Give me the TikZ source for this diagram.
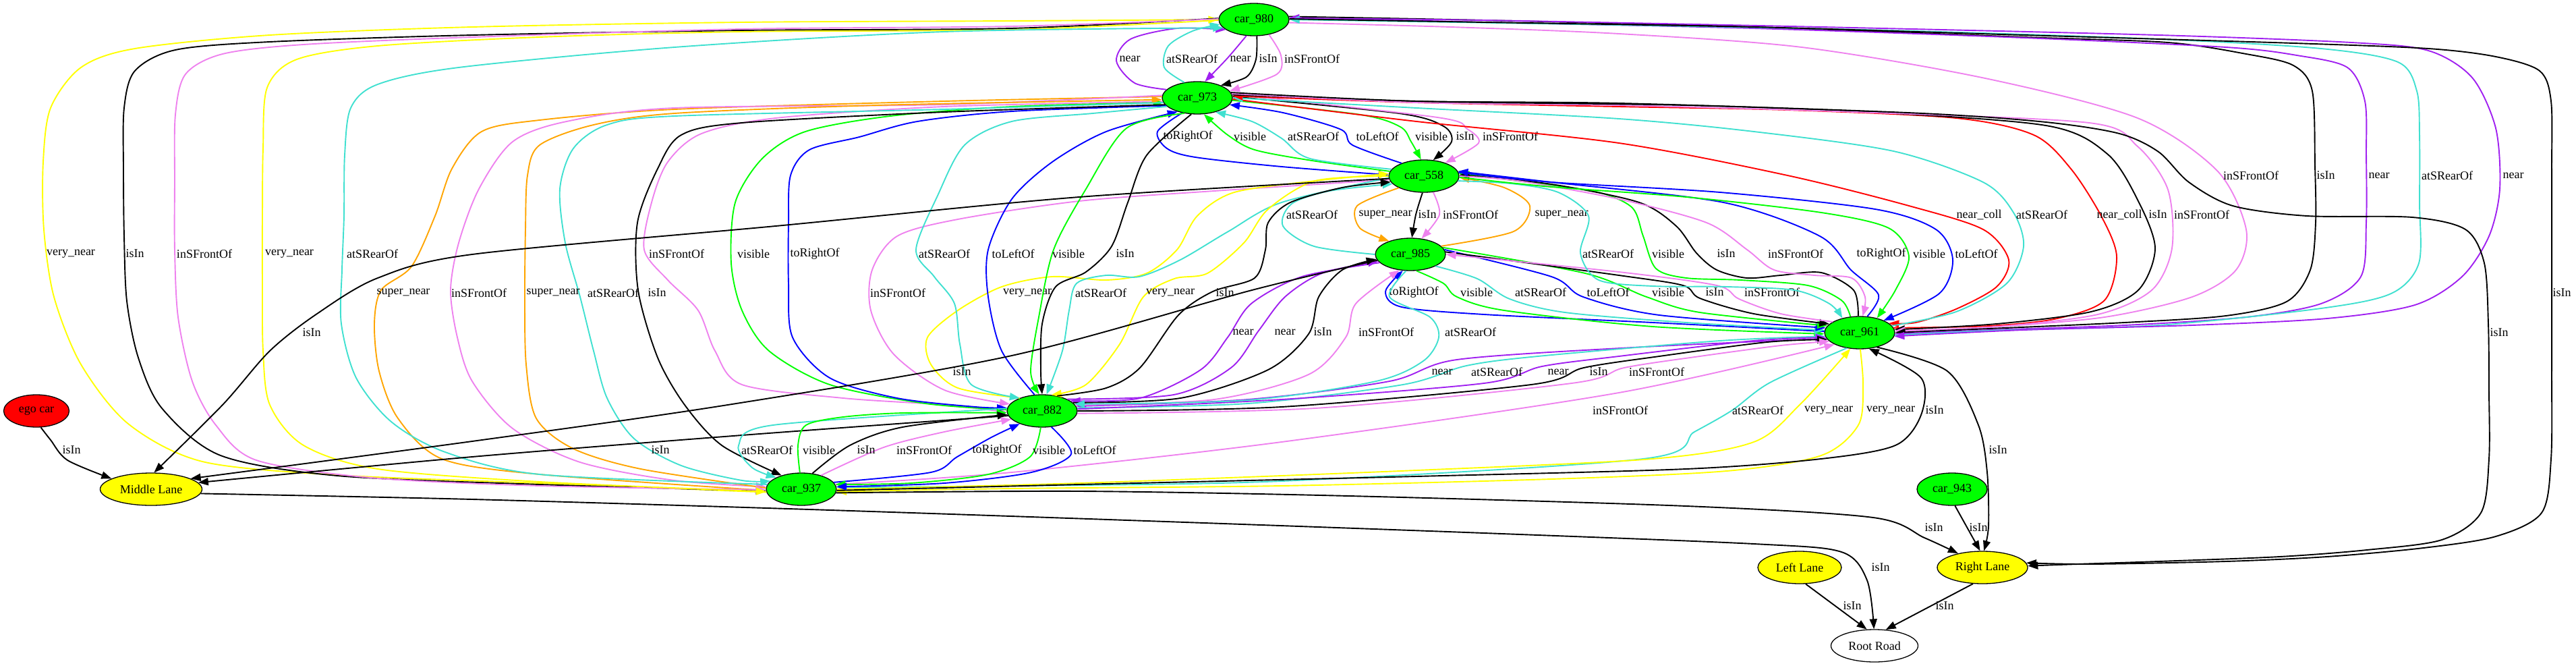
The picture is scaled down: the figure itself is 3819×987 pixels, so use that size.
\documentclass[tikz,border=0pt]{standalone}
\usepackage{fontspec}
\setmainfont{Liberation Serif}
\usetikzlibrary{arrows.meta,shapes.geometric}
\definecolor{gvgreen}{RGB}{0,255,0}
\definecolor{gvyellow}{RGB}{255,255,0}
\definecolor{gvred}{RGB}{255,0,0}
\definecolor{gvpurple}{RGB}{160,32,240}
\definecolor{gvturq}{RGB}{64,224,208}
\definecolor{gvviolet}{RGB}{238,130,238}
\definecolor{gvblue}{RGB}{0,0,255}
\definecolor{gvorange}{RGB}{255,165,0}
\tikzset{
  gnode/.style={ellipse, draw=black, line width=1.3pt, inner sep=0pt,
    minimum width=104pt, minimum height=48pt, font=\fontsize{18}{21}\selectfont},
  carnode/.style={gnode, fill=gvgreen},
  lanenode/.style={gnode, fill=gvyellow},
  lbl/.style={inner sep=0pt, font=\fontsize{18}{21}\selectfont},
  gv/.style={smooth, tension=0.5},
  rel/.style={line width=1.9pt, -{Triangle[length=15pt,width=11pt]}},
  eisin/.style={rel, black},
  enear/.style={rel, gvpurple},
  erear/.style={rel, gvturq},
  efront/.style={rel, gvviolet},
  evis/.style={rel, gvgreen},
  eright/.style={rel, gvblue},
  eleft/.style={rel, gvblue},
  esuper/.style={rel, gvorange},
  evnear/.style={rel, gvyellow},
  ecoll/.style={rel, gvred}
}

\begin{document}
\begin{tikzpicture}[x=1pt, y=-1pt]
\useasboundingbox (0,0) rectangle (3819,987);
% objects
\node[carnode] (c980) at (1859,29) {car\_980};
\node[carnode] (c973) at (1775,145) {car\_973};
\node[carnode] (c558) at (2111,261) {car\_558};
\node[carnode] (c985) at (2091,377) {car\_985};
\node[carnode] (c961) at (2757,493) {car\_961};
\node[carnode] (c882) at (1545,609) {car\_882};
\node[carnode] (c937) at (1188,725) {car\_937};
\node[carnode] (c943) at (2894,725) {car\_943};
\node[gnode, fill=gvred, minimum width=97pt] (ego) at (54,609) {ego car};
\node[lanenode, minimum width=151pt] (midlane) at (224,725) {Middle Lane};
\node[lanenode, minimum width=124pt] (leftlane) at (2668,841) {Left Lane};
\node[lanenode, minimum width=134pt] (rightlane) at (2939,841) {Right Lane};
\node[gnode, fill=white, minimum width=129pt] (root) at (2779,957) {Root Road};

% car_980 / car_973
\draw[enear] plot[gv] coordinates {(c973.165) (1682,123) (1655,90) (1676,58) (1745,42) (c980.200)};
\draw[erear] plot[gv] coordinates {(c973.130) (1726,100) (1732,68) (1768,46) (c980.188)};
\draw[enear] plot[gv] coordinates {(c980.245) (1819,87) (c973.65)};
\draw[eisin] plot[gv] coordinates {(c980.280) (1862,88) (1848,114) (c973.28)};
\draw[efront] plot[gv] coordinates {(c980.315) (1899,82) (1893,110) (c973.12)};
\node[lbl] (lA1) at (1675,87) {near}; \node[lbl] (lA2) at (1767,87) {atSRearOf};
\node[lbl] (lA3) at (1839,87) {near}; \node[lbl] (lA4) at (1880,87) {isIn};
\node[lbl] (lA5) at (1945,87) {inSFrontOf};

% car_973 / car_558
\draw[eright] plot[gv] coordinates {(c973.225) (1716,195) (1730,220) (1772,233) (1900,247) (c558.178)};
\draw[evis] plot[gv] coordinates {(c558.172) (1945,238) (1860,222) (1820,200) (c973.292)};
\draw[erear] plot[gv] coordinates {(c558.168) (1942,235) (1900,205) (1856,180) (c973.322)};
\draw[eleft] plot[gv] coordinates {(c558.150) (2005,215) (1988,192) (1902,167) (c973.348)};
\draw[evis] plot[gv] coordinates {(c973.356) (2017,170) (2076,188) (2092,210) (c558.100)};
\draw[eisin] plot[gv] coordinates {(c973.2) (2074,168) (2140,187) (2152,210) (c558.60)};
\draw[efront] plot[gv] coordinates {(c973.6) (2131,174) (2175,191) (2192,212) (c558.32)};
\node[lbl] (lB1) at (1761,202) {toRightOf}; \node[lbl] (lB2) at (1853,202) {visible};
\node[lbl] (lB3) at (1947,202) {atSRearOf}; \node[lbl] (lB4) at (2042,202) {toLeftOf};
\node[lbl] (lB5) at (2122,202) {visible}; \node[lbl] (lB6) at (2172,202) {isIn};
\node[lbl] (lB7) at (2239,202) {inSFrontOf};

% car_558 / car_985
\draw[erear] plot[gv] coordinates {(c985.180) (1948,365) (1902,335) (1915,302) (1971,283) (c558.194)};
\draw[esuper] plot[gv] coordinates {(c558.205) (2012,305) (2016,338) (c985.148)};
\draw[eisin] plot[gv] coordinates {(c558.265) (2099,318) (c985.85)};
\draw[efront] plot[gv] coordinates {(c558.300) (2134,318) (c985.55)};
\draw[esuper] plot[gv] coordinates {(c985.15) (2244,343) (2268,305) (2230,278) (c558.358)};
\node[lbl] (lC1) at (1945,318) {atSRearOf}; \node[lbl] (lC2) at (2054,318) {super\_near};
\node[lbl] (lC3) at (2116,318) {isIn}; \node[lbl] (lC4) at (2180,318) {inSFrontOf};
\node[lbl] (lC5) at (2315,318) {super\_near};

% car_985 / car_961
\draw[eright] plot[gv] coordinates {(c961.178) (2450,478) (2200,466) (2078,455) (2054,432) (c985.245)};
\draw[evis] plot[gv] coordinates {(c985.290) (2140,420) (2160,440) (2230,460) (2450,484) (c961.182)};
\draw[erear] plot[gv] coordinates {(c985.335) (2190,413) (2238,443) (2320,463) (2500,478) (c961.176)};
\draw[eleft] plot[gv] coordinates {(c985.8) (2300,410) (2347,440) (2460,467) (c961.172)};
\draw[evis] plot[gv] coordinates {(c985.12) (2350,405) (2441,440) (2520,463) (c961.168)};
\draw[eisin] plot[gv] coordinates {(c985.4) (2400,408) (2495,423) (2520,442) (2600,465) (c961.164)};
\draw[efront] plot[gv] coordinates {(c961.158) (2640,465) (2578,443) (2545,423) (2400,403) (c985.0)};
\node[lbl] (lD1) at (2096,433) {toRightOf}; \node[lbl] (lD2) at (2189,433) {visible};
\node[lbl] (lD3) at (2284,433) {atSRearOf}; \node[lbl] (lD4) at (2384,433) {toLeftOf};
\node[lbl] (lD5) at (2473,433) {visible}; \node[lbl] (lD6) at (2542,433) {isIn};
\node[lbl] (lD7) at (2627,433) {inSFrontOf};

% car_558 / car_961
\draw[erear] plot[gv] coordinates {(c558.352) (2240,272) (2310,285) (2355,320) (2343,375) (2370,415) (2450,424) (2560,425) (2660,430) (2712,450) (c961.140)};
\draw[evis] plot[gv] coordinates {(c961.120) (2730,445) (2680,423) (2580,415) (2500,412) (2455,398) (2436,350) (2420,308) (2370,285) (2280,272) (c558.4)};
\draw[eisin] plot[gv] coordinates {(c961.95) (2748,430) (2700,404) (2640,408) (2590,412) (2545,400) (2515,375) (2485,335) (2430,300) (2300,273) (c558.2)};
\draw[efront] plot[gv] coordinates {(c558.0) (2250,268) (2400,295) (2530,330) (2590,370) (2630,400) (2690,408) (2745,412) (2765,440) (c961.80)};
\draw[eright] plot[gv] coordinates {(c961.65) (2785,437) (2744,400) (2698,350) (2555,300) (2300,270) (c558.8)};
\draw[evis] plot[gv] coordinates {(c558.358) (2300,277) (2500,292) (2700,315) (2800,338) (2830,380) (2810,430) (c961.40)};
\draw[eleft] plot[gv] coordinates {(c558.6) (2300,270) (2550,285) (2780,310) (2870,340) (2895,385) (2875,435) (c961.27)};
\node[lbl] (lE1) at (2384,376) {atSRearOf}; \node[lbl] (lE2) at (2473,376) {visible};
\node[lbl] (lE3) at (2559,376) {isIn}; \node[lbl] (lE4) at (2662,376) {inSFrontOf};
\node[lbl] (lE5) at (2789,376) {toRightOf}; \node[lbl] (lE6) at (2860,376) {visible};
\node[lbl] (lE7) at (2930,376) {toLeftOf};

% car_973 / car_961
\draw[ecoll] plot[gv] coordinates {(c973.358) (2100,180) (2400,212) (2650,260) (2830,305) (2940,340) (2978,385) (2960,425) (2900,458) (2840,478) (c961.18)};
\draw[erear] plot[gv] coordinates {(c961.12) (2900,462) (2975,420) (3000,365) (2985,315) (2940,270) (2807,224) (2600,195) (2400,176) (2100,160) (c973.0)};
\draw[ecoll] plot[gv] coordinates {(c961.8) (2950,483) (3050,472) (3120,445) (3138,380) (3115,320) (3070,250) (3015,200) (2900,175) (2650,163) (2400,158) (2100,152) (c973.3)};
\draw[eisin] plot[gv] coordinates {(c973.5) (2100,150) (2400,153) (2750,165) (3033,186) (3124,228) (3170,298) (3195,368) (3170,430) (3100,462) (2960,480) (c961.5)};
\draw[efront] plot[gv] coordinates {(c973.7) (2100,152) (2400,156) (2750,166) (3097,182) (3169,217) (3214,281) (3220,368) (3190,430) (3110,466) (2960,484) (c961.3)};
\node[lbl] (lF1) at (2934,318) {near\_coll}; \node[lbl] (lF2) at (3027,318) {atSRearOf};
\node[lbl] (lF3) at (3142,318) {near\_coll}; \node[lbl] (lF4) at (3199,318) {isIn};
\node[lbl] (lF5) at (3264,318) {inSFrontOf};

% car_980 / car_961
\draw[efront] plot[gv] coordinates {(c980.355) (2150,40) (2400,50) (2671,70) (2943,116) (3169,175) (3287,253) (3330,340) (3315,400) (3250,440) (3120,470) (2950,485) (c961.1)};
\draw[eisin] plot[gv] coordinates {(c980.5) (2200,30) (2600,40) (3000,55) (3214,63) (3330,80) (3400,97) (3428,135) (3432,246) (3433,330) (3425,400) (3390,447) (3300,468) (3150,478) (2950,487) (c961.0)};
\draw[enear] plot[gv] coordinates {(c961.358) (2950,489) (3150,482) (3330,470) (3441,450) (3500,410) (3508,330) (3508,230) (3506,150) (3480,100) (3405,82) (3300,70) (3000,56) (2600,42) (2200,33) (c980.3)};
\draw[erear] plot[gv] coordinates {(c961.356) (2950,490) (3200,482) (3441,457) (3545,435) (3586,390) (3587,300) (3587,200) (3583,135) (3555,92) (3441,72) (3200,58) (2800,45) (2400,37) (c980.0)};
\draw[enear] plot[gv] coordinates {(c980.2) (2200,30) (2700,40) (3200,52) (3486,63) (3600,75) (3665,115) (3700,190) (3706,280) (3690,350) (3650,410) (3580,452) (3450,472) (3250,482) (3000,489) (c961.354)};
\node[lbl] (lG1) at (3337,260) {inSFrontOf}; \node[lbl] (lG2) at (3448,260) {isIn};
\node[lbl] (lG3) at (3527,260) {near}; \node[lbl] (lG4) at (3628,260) {atSRearOf};
\node[lbl] (lG5) at (3726,260) {near};

% long isIn edges to Right Lane
\draw[eisin] plot[gv] coordinates {(c980.1) (2200,33) (2600,40) (3000,52) (3400,64) (3600,72) (3700,84) (3765,105) (3782,150) (3783,250) (3783,400) (3783,550) (3782,680) (3768,760) (3700,795) (3593,812) (3450,825) (3300,832) (3100,836) (rightlane.6)};
\draw[eisin] plot[gv] coordinates {(c973.9) (2100,150) (2500,156) (2850,168) (3033,181) (3142,198) (3200,225) (3245,270) (3310,305) (3420,320) (3576,322) (3655,340) (3683,390) (3689,480) (3690,580) (3690,680) (3678,760) (3620,800) (3509,815) (3380,825) (3200,832) (3080,836) (rightlane.2)};
\draw[eisin] plot[gv] coordinates {(c961.320) (2887,550) (2933,630) (2946,700) (2948,780) (rightlane.85)};
\node[lbl] (lH1) at (3798,434) {isIn}; \node[lbl] (lH2) at (3705,493) {isIn};
\node[lbl] (lH3) at (2962,667) {isIn};

% car_937 / car_961
\draw[efront] plot[gv] coordinates {(c937.8) (1500,700) (1900,655) (2400,582) (c961.205)};
\draw[erear] plot[gv] coordinates {(c961.230) (2624,567) (2568,608) (2512,640) (2436,680) (1900,713) (1500,720) (c937.3)};
\draw[evnear] plot[gv] coordinates {(c937.0) (1600,716) (2100,697) (2450,680) (2600,655) (2668,600) (c961.240)};
\draw[evnear] plot[gv] coordinates {(c961.272) (2762,570) (2755,630) (2700,675) (2560,698) (2300,710) (1900,720) (1500,724) (c937.356)};
\draw[eisin] plot[gv] coordinates {(c937.358) (1600,718) (2100,706) (2500,695) (2700,680) (2810,660) (2848,615) (2848,560) (c961.300)};
\node[lbl] (lI1) at (2402,608) {inSFrontOf}; \node[lbl] (lI2) at (2606,608) {atSRearOf};
\node[lbl] (lI3) at (2711,608) {very\_near}; \node[lbl] (lI4) at (2803,608) {very\_near};
\node[lbl] (lI5) at (2868,608) {isIn};

% car_882 / car_961
\draw[enear] plot[gv] coordinates {(c961.190) (2420,515) (2160,533) (2060,565) (1850,592) (c882.8)};
\draw[erear] plot[gv] coordinates {(c882.5) (1850,598) (2080,570) (2174,542) (2280,528) (2550,505) (c961.186)};
\draw[enear] plot[gv] coordinates {(c882.3) (1900,592) (2200,568) (2286,543) (2400,528) (2600,505) (c961.188)};
\draw[eisin] plot[gv] coordinates {(c882.0) (1900,603) (2270,570) (2348,545) (2460,528) (2620,507) (c961.192)};
\draw[efront] plot[gv] coordinates {(c882.356) (1950,605) (2330,568) (2408,545) (2520,528) (2640,512) (c961.196)};
\node[lbl] (lJ1) at (2138,551) {near}; \node[lbl] (lJ2) at (2219,551) {atSRearOf};
\node[lbl] (lJ3) at (2310,551) {near}; \node[lbl] (lJ4) at (2370,551) {isIn};
\node[lbl] (lJ5) at (2456,551) {inSFrontOf};

% car_985 / car_882
\draw[enear] plot[gv] coordinates {(c985.195) (1930,410) (1855,450) (1820,500) (1780,548) (1690,590) (c882.20)};
\draw[enear] plot[gv] coordinates {(c882.25) (1740,585) (1825,545) (1866,490) (1905,440) (1960,405) (c985.192)};
\draw[eisin] plot[gv] coordinates {(c882.15) (1750,590) (1880,548) (1940,495) (1955,440) (1990,400) (c985.188)};
\draw[efront] plot[gv] coordinates {(c882.10) (1800,592) (1940,555) (1995,500) (2010,450) (c985.235)};
\draw[erear] plot[gv] coordinates {(c985.255) (2060,440) (2120,470) (2133,500) (2110,535) (2040,565) (1850,593) (c882.12)};
\node[lbl] (lK1) at (1843,492) {near}; \node[lbl] (lK2) at (1905,492) {near};
\node[lbl] (lK3) at (1961,492) {isIn}; \node[lbl] (lK4) at (2055,492) {inSFrontOf};
\node[lbl] (lK5) at (2180,492) {atSRearOf};

% car_558 / car_882
\draw[efront] plot[gv] coordinates {(c558.186) (1800,283) (1600,298) (1420,325) (1330,350) (1293,400) (1291,460) (1325,525) (1400,578) (c882.168)};
\draw[evnear] plot[gv] coordinates {(c882.150) (1420,575) (1380,540) (1375,500) (1420,460) (1485,425) (1560,410) (1640,415) (1700,405) (1745,370) (1775,320) (1830,285) (1950,268) (c558.176)};
\draw[erear] plot[gv] coordinates {(c558.183) (1900,300) (1821,343) (1750,385) (1689,410) (1640,408) (1596,420) (1585,460) (1575,520) (c882.75)};
\draw[evnear] plot[gv] coordinates {(c558.180) (1950,268) (1880,310) (1844,360) (1790,405) (1741,413) (1695,440) (1660,510) (1610,570) (c882.60)};
\draw[eisin] plot[gv] coordinates {(c882.45) (1640,575) (1690,545) (1747,467) (1798,432) (1860,412) (1876,370) (1880,330) (1913,300) (1990,278) (c558.190)};
\node[lbl] (lL1) at (1331,434) {inSFrontOf}; \node[lbl] (lL2) at (1523,434) {very\_near};
\node[lbl] (lL3) at (1632,434) {atSRearOf}; \node[lbl] (lL4) at (1735,434) {very\_near};
\node[lbl] (lL5) at (1816,434) {isIn};

% car_973 / car_882
\draw[efront] plot[gv] coordinates {(c973.186) (1400,158) (1150,175) (1040,198) (990,240) (966,300) (955,370) (990,415) (1035,460) (1060,520) (1100,570) (1250,590) (1400,600) (c882.182)};
\draw[evis] plot[gv] coordinates {(c882.178) (1372,598) (1230,570) (1140,520) (1100,460) (1084,390) (1090,300) (1130,235) (1194,195) (1320,172) (1500,158) (c973.188)};
\draw[eright] plot[gv] coordinates {(c973.194) (1500,165) (1360,180) (1274,203) (1200,222) (1172,260) (1169,330) (1169,420) (1175,500) (1230,560) (1330,590) (1446,603) (c882.175)};
\draw[erear] plot[gv] coordinates {(c973.196) (1620,168) (1500,180) (1430,215) (1390,290) (1358,370) (1385,410) (1415,450) (1423,510) (1440,570) (c882.150)};
\draw[eleft] plot[gv] coordinates {(c882.115) (1485,520) (1465,440) (1465,370) (1500,295) (1560,240) (1640,195) (c973.215)};
\draw[evis] plot[gv] coordinates {(c973.230) (1670,190) (1610,280) (1562,370) (1540,470) (1528,550) (c882.100)};
\draw[eisin] plot[gv] coordinates {(c973.250) (1700,230) (1672,300) (1648,365) (1610,403) (1565,425) (1545,480) (1543,550) (c882.90)};
\node[lbl] (lM1) at (1003,376) {inSFrontOf}; \node[lbl] (lM2) at (1117,376) {visible};
\node[lbl] (lM3) at (1208,376) {toRightOf}; \node[lbl] (lM4) at (1400,376) {atSRearOf};
\node[lbl] (lM5) at (1502,376) {toLeftOf}; \node[lbl] (lM6) at (1584,376) {visible};
\node[lbl] (lM7) at (1668,376) {isIn};

% car_973 / car_937
\draw[esuper] plot[gv] coordinates {(c973.178) (1400,150) (1000,162) (800,178) (714,195) (670,250) (645,320) (610,395) (565,430) (555,480) (562,550) (590,620) (655,680) (800,703) (c937.182)};
\draw[efront] plot[gv] coordinates {(c973.176) (1400,155) (1000,160) (840,180) (760,210) (710,280) (680,360) (668,430) (678,500) (700,565) (760,635) (860,685) (1000,712) (c937.176)};
\draw[esuper] plot[gv] coordinates {(c937.178) (950,695) (850,665) (795,620) (780,540) (778,440) (779,340) (782,260) (800,215) (880,185) (1000,168) (1300,156) (c973.183)};
\draw[erear] plot[gv] coordinates {(c973.188) (1400,162) (1000,172) (900,185) (850,220) (830,280) (838,360) (860,440) (880,520) (900,590) (940,650) (1010,690) (1100,712) (c937.165)};
\draw[eisin] plot[gv] coordinates {(c973.192) (1400,166) (1100,182) (1010,200) (975,250) (945,330) (946,430) (975,530) (1015,600) (1070,660) (c937.145)};
\node[lbl] (lN1) at (598,434) {super\_near}; \node[lbl] (lN2) at (710,434) {inSFrontOf};
\node[lbl] (lN3) at (820,434) {super\_near}; \node[lbl] (lN4) at (909,434) {atSRearOf};
\node[lbl] (lN5) at (974,434) {isIn};

% car_980 / car_937
\draw[evnear] plot[gv] coordinates {(c937.185) (800,716) (500,704) (300,684) (190,628) (120,540) (80,440) (65,340) (64,240) (75,160) (120,100) (200,72) (400,52) (700,40) (1100,33) (1500,31) (c980.180)};
\draw[eisin] plot[gv] coordinates {(c980.178) (1500,42) (1100,45) (700,52) (400,62) (260,74) (200,105) (184,160) (183,250) (184,350) (188,446) (205,530) (240,605) (327,675) (500,705) (800,718) (c937.183)};
\draw[efront] plot[gv] coordinates {(c980.179) (1500,39) (1100,43) (700,55) (450,66) (330,80) (275,110) (260,170) (259,270) (259,370) (264,470) (285,565) (320,630) (380,682) (550,708) (800,720) (c937.181)};
\draw[evnear] plot[gv] coordinates {(c980.181) (1500,44) (1100,47) (800,55) (560,68) (440,88) (396,130) (390,220) (389,320) (389,420) (390,520) (400,600) (450,660) (560,695) (800,714) (c937.184)};
\draw[erear] plot[gv] coordinates {(c937.172) (800,703) (660,670) (580,625) (528,560) (506,480) (507,400) (510,320) (511,230) (520,160) (560,125) (680,100) (1000,70) (1400,47) (c980.195)};
\node[lbl] (lO1) at (105,376) {very\_near}; \node[lbl] (lO2) at (200,376) {isIn};
\node[lbl] (lO3) at (303,376) {inSFrontOf}; \node[lbl] (lO4) at (429,376) {very\_near};
\node[lbl] (lO5) at (552,376) {atSRearOf};

% lanes and road
\draw[eisin] plot[gv] coordinates {(ego.285) (75,652) (100,682) (midlane.165)};
\draw[eisin] plot[gv] coordinates {(c558.184) (1600,292) (1150,335) (700,377) (560,412) (470,465) (400,520) (330,600) (midlane.80)};
\draw[eisin] plot[gv] coordinates {(c985.190) (1856,430) (1500,527) (1079,600) (700,654) (midlane.15)};
\draw[eisin] plot[gv] coordinates {(c882.188) (1100,645) (700,677) (midlane.8)};
\draw[eisin] plot[gv] coordinates {(midlane.355) (700,740) (1200,755) (1700,772) (2200,790) (2600,806) (2730,818) (2768,860) (root.92)};
\draw[eisin] plot[gv] coordinates {(c937.354) (1600,728) (2000,735) (2500,750) (2777,767) (2853,797) (rightlane.150)};
\draw[eisin] (c943.280) -- (rightlane.98);
\draw[eisin] (leftlane.290) -- (root.115);
\draw[eisin] (rightlane.240) -- (root.55);
\node[lbl] (lP1) at (106,667) {isIn}; \node[lbl] (lP2) at (462,493) {isIn};
\node[lbl] (lP3) at (1426,551) {isIn}; \node[lbl] (lP4) at (979,667) {isIn};
\node[lbl] (lP5) at (2788,841) {isIn}; \node[lbl] (lP6) at (2867,782) {isIn};
\node[lbl] (lP7) at (2933,782) {isIn}; \node[lbl] (lP8) at (2746,898) {isIn};
\node[lbl] (lP9) at (2883,898) {isIn};

% car_882 / car_937
\draw[erear] plot[gv] coordinates {(c882.176) (1146,630) (1095,660) (1115,693) (c937.155)};
\draw[evis] plot[gv] coordinates {(c937.95) (1183,660) (1195,630) (1250,618) (1340,612) (c882.183)};
\draw[eisin] plot[gv] coordinates {(c937.55) (1260,660) (1338,633) (c882.186)};
\draw[efront] plot[gv] coordinates {(c937.35) (1310,663) (1400,640) (c882.195)};
\draw[eright] plot[gv] coordinates {(c937.12) (1380,700) (1419,677) (1470,648) (c882.210)};
\draw[evis] plot[gv] coordinates {(c882.265) (1527,677) (1465,703) (1350,716) (c937.8)};
\draw[eleft] plot[gv] coordinates {(c882.300) (1588,673) (1529,700) (1400,716) (c937.4)};
\node[lbl] (lQ1) at (1137,667) {atSRearOf}; \node[lbl] (lQ2) at (1214,667) {visible};
\node[lbl] (lQ3) at (1284,667) {isIn}; \node[lbl] (lQ4) at (1370,667) {inSFrontOf};
\node[lbl] (lQ5) at (1478,667) {toRightOf}; \node[lbl] (lQ6) at (1555,667) {visible};
\node[lbl] (lQ7) at (1623,667) {toLeftOf};
\end{tikzpicture}
\end{document}
